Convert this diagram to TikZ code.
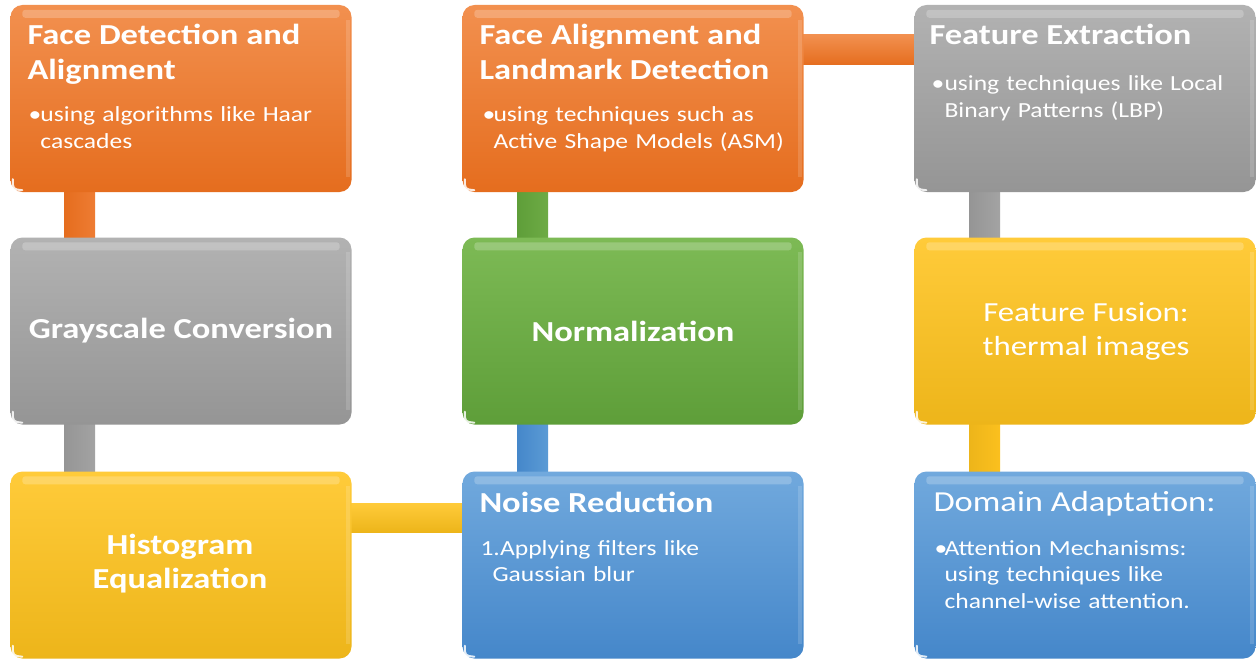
\documentclass[tikz,border=0pt]{standalone}
\usepackage{fontspec}
\setmainfont[FakeStretch=1.19]{Carlito}
\usetikzlibrary{calc,backgrounds}
\definecolor{orT}{HTML}{F2904F}
\definecolor{orM}{HTML}{EE7C33}
\definecolor{orB}{HTML}{E56D1E}
\definecolor{grT}{HTML}{B2B2B2}
\definecolor{grM}{HTML}{A3A3A3}
\definecolor{grB}{HTML}{959595}
\definecolor{gnT}{HTML}{7DBA55}
\definecolor{gnM}{HTML}{6EAB45}
\definecolor{gnB}{HTML}{5E9E39}
\definecolor{ylT}{HTML}{FFCB3A}
\definecolor{ylM}{HTML}{FBC01E}
\definecolor{ylB}{HTML}{EDB51A}
\definecolor{blT}{HTML}{71A9DD}
\definecolor{blM}{HTML}{5B9BD5}
\definecolor{blB}{HTML}{4587CA}
\newcommand\bitem[3]{\hangindent=#1\hangafter=1\noindent\makebox[#1][l]{#2}#3\par}
\newcommand\hitem[2]{\hangindent=#1\hangafter=1\noindent #2\par}
\newcommand\glint[1]{%
  \draw[white, line width=2pt, line cap=round, opacity=.85]
    ($(#1.south west)+(2.5,-13)$) .. controls ($(#1.south west)+(2.5,-3)$) .. ($(#1.south west)+(12,-2)$);
  \fill[white, opacity=.22, rounded corners=3pt]
    ($(#1.north west)+(12,5)$) rectangle ($(#1.north east)+(-12,13)$);
  \fill[white, opacity=.15]
    ($(#1.north east)+(-6,15)$) rectangle ($(#1.south east)+(-2,-15)$);}
\tikzset{
  stage/.style={rounded corners=12pt, minimum width=341pt, minimum height=187pt, inner sep=0pt, draw=none},
  orbox/.style={stage, top color=orT, bottom color=orB},
  grbox/.style={stage, top color=grT, bottom color=grB},
  gnbox/.style={stage, top color=gnT, bottom color=gnB},
  ylbox/.style={stage, top color=ylT, bottom color=ylB},
  blbox/.style={stage, top color=blT, bottom color=blB},
  ttl/.style={anchor=base west, text=white, inner sep=0pt, align=left,
    font=\fontsize{29}{35}\selectfont\bfseries},
  ttlr/.style={anchor=base west, text=white, inner sep=0pt, align=left,
    font=\fontsize{29}{34}\selectfont},
  body/.style={anchor=base west, text=white, inner sep=0pt, text width=330pt,
    font=\fontsize{21.5}{26.5}\selectfont},
  mid/.style={text=white, align=center, inner sep=0pt,
    font=\fontsize{29}{34}\selectfont\bfseries},
  midr/.style={text=white, align=center, inner sep=0pt,
    font=\fontsize{27.6}{34}\selectfont},
}
\begin{document}
\begin{tikzpicture}[x=1pt,y=-1pt]
\useasboundingbox (0,0) rectangle (1256,661);

% boxes
\node[orbox] (fda) at (181,98.5) {};
\node[grbox] (gsc) at (181,331) {};
\node[ylbox] (heq) at (181,565) {};
\node[orbox] (fal) at (633,98.5) {};
\node[gnbox] (nrm) at (633,331) {};
\node[blbox] (nrd) at (633,565) {};
\node[grbox] (fex) at (1085,98.5) {};
\node[ylbox] (ffu) at (1085,331) {};
\node[blbox] (dad) at (1085,565) {};

\foreach \b in {fda,gsc,heq,fal,nrm,nrd,fex,ffu,dad}{\glint{\b}}

% connector axes
\coordinate (c1) at (79.5,0);
\coordinate (c2) at (532.5,0);
\coordinate (c3) at (984.5,0);
\coordinate (r1) at (0,50);
\coordinate (r3) at (0,517.5);

\begin{scope}[on background layer]
\fill[white] (0,0) rectangle (1256,661);
\path[left color=orB, middle color=orT, right color=orM]
  ($(fda.south -| c1)+(-15.5,-3)$) rectangle ($(gsc.north -| c1)+(15.5,3)$);
\path[left color=grB, middle color=grT, right color=grM]
  ($(gsc.south -| c1)+(-15.5,-3)$) rectangle ($(heq.north -| c1)+(15.5,3)$);
\path[top color=ylT, bottom color=ylB]
  ($(heq.east |- r3)+(-3,-14.5)$) rectangle ($(nrd.west |- r3)+(3,14.5)$);
\path[left color=blB, middle color=blT, right color=blM]
  ($(nrd.north -| c2)+(-15.5,3)$) rectangle ($(nrm.south -| c2)+(15.5,-3)$);
\path[left color=gnB, middle color=gnT, right color=gnM]
  ($(nrm.north -| c2)+(-15.5,3)$) rectangle ($(fal.south -| c2)+(15.5,-3)$);
\path[top color=orT, bottom color=orB]
  ($(fal.east |- r1)+(-3,-15)$) rectangle ($(fex.west |- r1)+(3,15)$);
\path[left color=grB, middle color=grT, right color=grM]
  ($(fex.south -| c3)+(-15.5,-3)$) rectangle ($(ffu.north -| c3)+(15.5,3)$);
\path[left color=ylB, middle color=ylT, right color=ylM]
  ($(ffu.south -| c3)+(-15.5,-3)$) rectangle ($(dad.north -| c3)+(15.5,3)$);
\end{scope}

% texts
\node[ttl] (fdat) at ($(fda.north west)+(17,75)$) {Face Detection and\\Alignment};
\node[body] (fdab) at ($(fda.north west)+(18,117)$)
  {\bitem{12pt}{•}{using algorithms like Haar\newline cascades}};

\node[ttl] (falt) at ($(fal.north west)+(17,75)$) {Face Alignment and\\Landmark Detection};
\node[body] (falb) at ($(fal.north west)+(20,117)$)
  {\bitem{11pt}{•}{using techniques such as\newline Active Shape Models (ASM)}};

\node[ttl] (fext) at ($(fex.north west)+(15,40)$) {Feature Extraction};
\node[body] (fexb) at ($(fex.north west)+(17,86)$)
  {\bitem{13pt}{•}{using techniques like Local\newline Binary Patterns (LBP)}};

\node[mid] (gsct) at (gsc.center) {Grayscale Conversion};
\node[mid] (nrmt) at (nrm.center) {Normalization};
\node[midr] (ffut) at ($(ffu.center)+(1,0)$) {Feature Fusion:\\thermal images};
\node[mid] (heqt) at ($(heq.center)+(-1,-1)$) {Histogram\\Equalization};

\node[ttl] (nrdt) at ($(nrd.north west)+(17,41)$) {Noise Reduction};
\node[body] (nrdb) at ($(nrd.north west)+(18,84)$)
  {\hitem{12pt}{1.Applying filters like\newline Gaussian blur}};

\node[ttlr] (dadt) at ($(dad.north west)+(19,40)$) {Domain Adaptation:};
\node[body] (dadb) at ($(dad.north west)+(20,84)$)
  {\bitem{10pt}{•}{Attention Mechanisms:\newline using techniques like\newline channel-wise attention.}};
\end{tikzpicture}
\end{document}
